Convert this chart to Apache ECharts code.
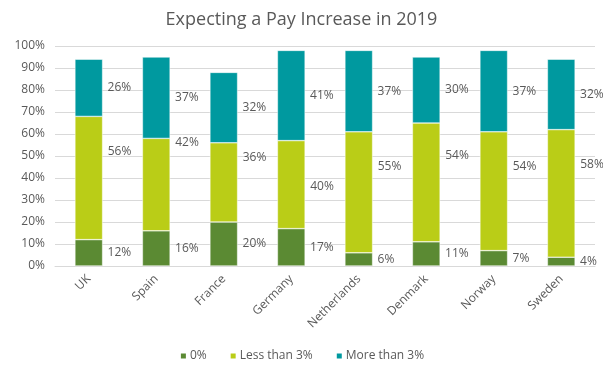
<!DOCTYPE html>
<html>
<head>
<meta charset="utf-8">
<script src="https://cdn.jsdelivr.net/npm/echarts@6/dist/echarts.min.js"></script>
<style>
  html, body { margin: 0; padding: 0; background: #fff; }
  #chart { width: 603px; height: 367px; }
</style>
</head>
<body>
<div id="chart"></div>
<script>
// Share of respondents expecting each size of pay rise, by country (%)
const countries = ['UK', 'Spain', 'France', 'Germany', 'Netherlands', 'Denmark', 'Norway', 'Sweden'];
const zeroPct = [12, 16, 20, 17, 6, 11, 7, 4];
const lessThan3 = [56, 42, 36, 40, 55, 54, 54, 58];
const moreThan3 = [26, 37, 32, 41, 37, 30, 37, 32];
const yTicks = [0, 10, 20, 30, 40, 50, 60, 70, 80, 90, 100];

// Height on the value axis at which the middle ("Less than 3%") labels sit
const midLabelLevel = [52, 56, 49.5, 36, 45, 50, 45, 46];

const FONT = '"Open Sans", "Noto Sans", sans-serif';
const TEXT = '#595959';
const colors = ['#5b8a33', '#bacd17', '#00999f'];

const sideLabel = {
  show: true,
  position: 'right',
  distance: 5,
  color: TEXT,
  fontFamily: FONT,
  fontSize: 12,
  formatter: p => p.value + '%'
};

const chart = echarts.init(document.getElementById('chart'), null, { renderer: 'canvas' });
chart.setOption({
  animation: false,
  color: colors,
  title: {
    text: 'Expecting a Pay Increase in 2019',
    left: 'center',
    top: 6,
    textStyle: { fontFamily: FONT, fontSize: 18, fontWeight: 'normal', color: TEXT }
  },
  legend: {
    data: ['0%', 'Less than 3%', 'More than 3%'],
    bottom: 0,
    left: 'center',
    icon: 'rect',
    itemWidth: 7,
    itemHeight: 7,
    itemGap: 22,
    textStyle: { fontFamily: FONT, fontSize: 12, color: TEXT, padding: [0, 0, 0, -2] }
  },
  grid: { left: 55, right: 8, top: 46, bottom: 101, containLabel: false },
  xAxis: {
    type: 'category',
    data: countries,
    axisLine: { lineStyle: { color: '#d9d9d9' } },
    axisTick: { show: false },
    axisLabel: { rotate: 45, color: TEXT, fontFamily: FONT, fontSize: 12, margin: 11 }
  },
  yAxis: {
    type: 'value',
    min: yTicks[0],
    max: yTicks[yTicks.length - 1],
    interval: yTicks[1] - yTicks[0],
    axisLine: { show: false },
    axisTick: { show: false },
    splitLine: { lineStyle: { color: '#d9d9d9' } },
    axisLabel: { color: TEXT, fontFamily: FONT, fontSize: 12, margin: 10, formatter: v => v + '%' }
  },
  series: [
    {
      name: '0%', type: 'bar', stack: 'total', barWidth: '41%',
      data: zeroPct, label: sideLabel,
      itemStyle: { borderColor: '#ffffff', borderWidth: 0.5 }
    },
    {
      name: 'Less than 3%', type: 'bar', stack: 'total', barWidth: '41%',
      data: lessThan3, label: { show: false },
      itemStyle: { borderColor: '#ffffff', borderWidth: 0.5 }
    },
    {
      name: 'More than 3%', type: 'bar', stack: 'total', barWidth: '41%',
      data: moreThan3, label: sideLabel,
      itemStyle: { borderColor: '#ffffff', borderWidth: 0.5 }
    },
    {
      // text-only carrier for the middle-segment labels
      name: 'midLabels', type: 'scatter', symbolSize: 0, silent: true,
      itemStyle: { opacity: 1 },
      data: countries.map((c, i) => ({ value: [c, midLabelLevel[i]], pct: lessThan3[i] })),
      label: {
        show: true,
        position: 'right',
        distance: 19,
        color: TEXT,
        opacity: 1,
        fontFamily: FONT,
        fontSize: 12,
        formatter: p => p.data.pct + '%'
      },
      z: 5
    }
  ]
});
</script>
</body>
</html>
